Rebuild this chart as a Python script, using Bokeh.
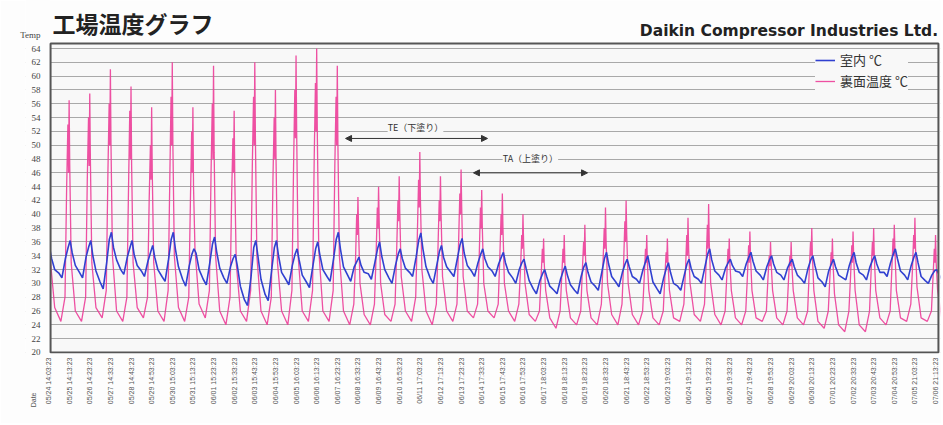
import numpy as np
from bokeh.plotting import figure
from bokeh.models import Range1d, FixedTicker, Label, Arrow, NormalHead, Legend, LegendItem
from bokeh.embed import file_html
from bokeh.resources import INLINE

# ---- tick labels (one per logged day) ----
tick_labels = [
    "05/24 14:03:23", "05/25 14:13:23", "05/26 14:23:23", "05/27 14:33:23",
    "05/28 14:43:23", "05/29 14:53:23", "05/30 15:03:23", "05/31 15:13:23",
    "06/01 15:23:23", "06/02 15:33:23", "06/03 15:43:23", "06/04 15:53:23",
    "06/05 16:03:23", "06/06 16:13:23", "06/07 16:23:23", "06/08 16:33:23",
    "06/09 16:43:23", "06/10 16:53:23", "06/11 17:03:23", "06/12 17:13:23",
    "06/13 17:23:23", "06/14 17:33:23", "06/15 17:43:23", "06/16 17:53:23",
    "06/17 18:03:23", "06/18 18:13:23", "06/19 18:23:23", "06/20 18:33:23",
    "06/21 18:43:23", "06/22 18:53:23", "06/23 19:03:23", "06/24 19:13:23",
    "06/25 19:23:23", "06/26 19:33:23", "06/27 19:43:23", "06/28 19:53:23",
    "06/29 20:03:23", "06/30 20:13:23", "07/01 20:23:23", "07/02 20:33:23",
    "07/03 20:43:23", "07/04 20:53:23", "07/05 21:03:23", "07/06 21:13:23",
]
y_ticks = list(range(20, 65, 2))
x_caption = "Date"
y_caption = "Temp"

# ---- roof surface temperature (裏面温度): sample times within each day (day units) ----
pink_phase = [-0.20, -0.12, -0.06, -0.03, 0.00, 0.03, 0.10, 0.30, 0.60]
pink_rows = [
    [28, 40, 50, 44, 46, 38, 33, 26.5, 24.5],
    [28, 44, 53, 46, 56.5, 47, 33, 26, 24.5],
    [28, 45, 54, 47, 57.5, 48, 33, 26.5, 25],
    [29, 46, 56, 50, 61, 50, 34, 26, 24.5],
    [28, 44, 55, 48, 58.5, 47, 33, 26.5, 25],
    [28, 42, 50, 45, 55.5, 46, 33, 26, 24.5],
    [29, 45, 57, 50, 62, 50, 34, 26.5, 24.5],
    [28, 42, 52, 46, 55.5, 44, 35, 27, 25],
    [29, 46, 56, 48, 61.5, 49, 34, 26, 24],
    [28, 43, 51, 46, 55, 45, 33, 26, 24.5],
    [29, 47, 57, 50, 62, 51, 34, 26, 24],
    [28, 45, 54, 48, 58, 48, 33, 26, 24],
    [29, 47, 58, 51, 63, 52, 34, 26, 24.5],
    [29, 48, 59, 52, 64, 52, 35, 26, 24.5],
    [29, 47, 57, 50, 61.5, 50, 34, 26, 24],
    [27, 33, 40, 37, 42.5, 38, 30, 25.5, 24],
    [27, 34, 41, 38, 44, 39, 30, 25.5, 24.5],
    [27, 35, 42, 39, 45.5, 40, 31, 26, 24.5],
    [28, 37, 45, 41, 49, 42, 32, 26, 24],
    [27, 35, 42, 39, 45.5, 40, 31, 26, 24.5],
    [27, 36, 43, 40, 46.5, 41, 31, 26, 25],
    [27, 34, 41, 38, 43.5, 38, 30, 26, 25],
    [27, 34, 40, 37, 43, 38, 30, 26, 24.5],
    [27, 32, 37, 35, 40, 36, 30, 25.5, 24.5],
    [26, 31, 35, 33, 36.5, 33, 29, 25, 23.5],
    [26, 31, 35, 33, 37, 33, 29, 25, 24],
    [26, 32, 36, 34, 38.5, 34, 29, 25, 24],
    [27, 33, 38, 35, 41, 36, 30, 25.5, 24],
    [27, 33, 39, 36, 42, 37, 30, 25.5, 24],
    [26, 31, 35, 33, 37, 33, 29, 25, 24],
    [26, 31, 34.5, 33, 36.5, 33, 29, 25, 24.5],
    [27, 32, 37, 34, 39.5, 35, 30, 25.5, 24.5],
    [27, 33, 38.5, 35, 41.5, 36, 30, 25.5, 24],
    [26, 31, 35, 33, 36.5, 33, 29, 25, 24],
    [26, 31, 35.5, 33, 37.5, 34, 29, 25, 24.5],
    [26, 31, 34, 32.5, 36, 33, 29, 25, 24],
    [26, 31, 34, 32.5, 36, 33, 29, 25, 24],
    [26, 32, 36, 34, 38, 34, 29, 24.5, 23.5],
    [26, 31, 34.5, 33, 36.5, 33, 28.5, 24, 23],
    [26, 31, 35.5, 33, 37.5, 34, 29, 24, 23],
    [26, 32, 36, 34, 38, 34, 29, 25, 24],
    [26, 32, 36.5, 34, 38.5, 35, 29, 25, 24.5],
    [27, 32, 37, 35, 39.5, 35, 29.5, 25, 24.5],
    [26, 31, 35, 33, 37, 33, 29, 25, 24.5],
]

# ---- indoor temperature (室内) ----
blue_phase = [-0.35, -0.18, -0.05, 0.05, 0.15, 0.30, 0.50]
blue_rows = [
    [31.0, 33.0, 34.6, 35.2, 33.6, 32.0, 31.5],
    [30.8, 33.6, 35.2, 36.2, 34.4, 32.6, 31.6],
    [30.8, 33.8, 35.3, 36.2, 34.0, 31.8, 30.2],
    [29.2, 33.0, 36.4, 37.4, 35.2, 33.4, 32.0],
    [31.3, 33.8, 35.2, 36.2, 34.2, 32.6, 31.8],
    [31.0, 33.2, 34.5, 35.5, 33.8, 32.0, 31.0],
    [30.3, 33.5, 36.4, 37.4, 35.0, 32.4, 30.6],
    [29.6, 32.5, 34.2, 35.0, 34.4, 32.0, 30.6],
    [29.8, 33.0, 35.7, 36.7, 34.6, 32.2, 30.8],
    [30.0, 32.4, 33.6, 34.2, 32.6, 29.6, 27.6],
    [26.8, 31.0, 35.2, 36.2, 34.0, 30.6, 28.4],
    [27.5, 32.0, 35.2, 36.2, 34.0, 31.6, 30.6],
    [29.8, 32.6, 34.2, 35.0, 33.4, 31.2, 30.2],
    [29.4, 32.6, 35.0, 36.0, 34.2, 32.0, 31.0],
    [30.3, 33.6, 36.4, 37.4, 35.0, 32.4, 31.2],
    [30.3, 32.4, 33.2, 33.8, 32.6, 31.6, 31.4],
    [30.6, 33.0, 35.0, 36.0, 34.0, 32.0, 30.8],
    [30.0, 32.6, 34.2, 35.0, 33.6, 32.2, 31.6],
    [31.0, 33.8, 36.3, 37.3, 35.0, 32.4, 30.8],
    [30.0, 32.6, 34.6, 35.5, 33.8, 32.4, 31.6],
    [31.0, 33.6, 35.6, 36.5, 34.4, 32.6, 31.8],
    [31.0, 33.0, 34.2, 35.0, 33.6, 32.4, 31.8],
    [31.0, 32.8, 33.8, 34.5, 33.0, 31.6, 30.8],
    [30.0, 32.0, 33.0, 33.5, 32.2, 30.4, 29.2],
    [28.5, 30.4, 31.4, 32.0, 31.0, 29.6, 29.0],
    [28.5, 30.6, 31.8, 32.5, 31.2, 29.8, 29.0],
    [28.5, 31.0, 32.4, 33.0, 31.6, 30.2, 29.6],
    [29.0, 31.6, 33.6, 34.5, 32.8, 31.0, 30.2],
    [29.5, 31.6, 32.8, 33.5, 32.4, 31.0, 30.6],
    [30.0, 32.0, 33.2, 34.0, 32.4, 30.2, 29.2],
    [28.5, 30.8, 32.2, 33.0, 31.6, 30.0, 29.6],
    [29.0, 31.2, 32.8, 33.5, 32.2, 31.0, 30.6],
    [30.0, 32.4, 34.2, 35.0, 33.4, 31.8, 31.2],
    [30.5, 32.2, 33.0, 33.5, 32.6, 31.8, 31.6],
    [31.0, 32.8, 33.8, 34.5, 33.2, 31.8, 31.2],
    [30.5, 32.4, 33.4, 34.0, 32.8, 31.6, 31.2],
    [30.5, 32.2, 33.0, 33.5, 32.4, 31.2, 30.6],
    [30.0, 32.2, 33.4, 34.0, 32.6, 30.8, 30.2],
    [29.5, 31.8, 32.8, 33.5, 32.4, 31.2, 30.8],
    [30.5, 32.6, 33.8, 34.5, 33.0, 31.6, 31.2],
    [30.5, 32.4, 33.4, 34.0, 32.8, 31.6, 31.6],
    [31.0, 33.0, 34.2, 35.0, 33.6, 31.8, 31.2],
    [30.5, 32.6, 33.8, 34.5, 33.0, 31.0, 30.4],
    [30.0, 31.2, 31.8, 32.0, 31.4, 30.6, 30.2],
]


def flatten(phase, rows):
    xs, ys = [], []
    for d, row in enumerate(rows):
        for ph, v in zip(phase, row):
            xs.append(d + ph)
            ys.append(v)
    return xs, ys


px, py = flatten(pink_phase, pink_rows)
bx, by = flatten(blue_phase, blue_rows)

JP = "Noto Sans CJK JP"
PAGE = "#fdfdfd"
AREA = "#f8f8f8"

# plot-area box (in data units) and axis captions positions
box_l, box_r, box_b, box_t = 0.1, 43.14, 20.0, 64.72
date_tick = -0.73
temp_tick = 65.9

p = figure(width=941, height=423, output_backend="svg", toolbar_location=None,
           x_range=Range1d(-1.115, 43.24), y_range=Range1d(19.85, 70.95),
           min_border_left=25, min_border_right=1, min_border_top=0, min_border_bottom=70)
p.background_fill_color = PAGE
p.border_fill_color = PAGE
p.outline_line_color = None

# plot area fill (below grid)
p.quad(left=[box_l], right=[box_r], bottom=[box_b], top=[box_t],
       fill_color=AREA, line_color=None, level="image")

p.xgrid.visible = False
p.ygrid.ticker = FixedTicker(ticks=y_ticks)
p.ygrid.grid_line_color = "#a8a8a8"
p.ygrid.grid_line_width = 1

p.yaxis.ticker = FixedTicker(ticks=y_ticks + [temp_tick])
p.yaxis.major_label_overrides = {temp_tick: y_caption}
p.yaxis.axis_line_color = None
p.yaxis.major_tick_line_color = None
p.yaxis.minor_tick_line_color = None
p.yaxis.major_tick_out = 0
p.yaxis.major_label_standoff = -15
p.yaxis.major_label_text_font = "Liberation Serif"
p.yaxis.major_label_text_font_size = "9px"
p.yaxis.major_label_text_color = "#444444"

p.xaxis.ticker = FixedTicker(ticks=[date_tick] + list(range(len(tick_labels))))
overrides = {i: s for i, s in enumerate(tick_labels)}
overrides[date_tick] = x_caption + "\u00a0" * 18
p.xaxis.major_label_overrides = overrides
p.xaxis.major_label_orientation = np.pi / 2
p.xaxis.axis_line_color = None
p.xaxis.major_tick_line_color = None
p.xaxis.minor_tick_line_color = None
p.xaxis.major_tick_out = 0
p.xaxis.major_label_standoff = 4
p.xaxis.major_label_text_font = "Liberation Sans"
p.xaxis.major_label_text_font_size = "7px"
p.xaxis.major_label_text_color = "#555555"

r_pink = p.line(px, py, line_color="#ec3d98", line_width=1.3, line_alpha=0.9)
r_blue = p.line(bx, by, line_color="#3040d0", line_width=1.6)

# margins outside the plot box (hide grid / data there)
p.quad(left=[-1.2, box_r], right=[box_l, 43.3], bottom=[19.8, 19.8], top=[71, 71],
       fill_color=PAGE, line_color=None)
# plot box border
p.quad(left=[box_l], right=[box_r], bottom=[box_b], top=[box_t],
       fill_color=None, line_color="#555555", line_width=2)

legend = Legend(items=[LegendItem(label="室内 ℃", renderers=[r_blue]),
                       LegendItem(label="裏面温度 ℃", renderers=[r_pink])],
                location=(790, 263), orientation="vertical")
legend.label_text_font = JP
legend.label_text_font_size = "13px"
legend.label_text_color = "#333333"
legend.label_height = 16
legend.glyph_height = 16
legend.glyph_width = 20
legend.label_standoff = 5
legend.spacing = 2
legend.padding = 4
legend.border_line_color = None
legend.background_fill_color = AREA
legend.background_fill_alpha = 1.0
p.add_layout(legend)

# annotations: coating periods
head = dict(size=6, fill_color="#333333", line_color="#333333")
p.add_layout(Arrow(start=NormalHead(**head), end=NormalHead(**head),
                   x_start=14.4, y_start=50.98, x_end=21.28, y_end=50.98,
                   line_color="#333333", line_width=1))
p.add_layout(Label(x=17.79, y=52.57, text="TE（下塗り）", text_font=JP, text_font_size="9px",
                   text_color="#333333", text_align="center", text_baseline="middle",
                   background_fill_color=AREA))
p.add_layout(Arrow(start=NormalHead(**head), end=NormalHead(**head),
                   x_start=20.6, y_start=46.0, x_end=26.13, y_end=46.0,
                   line_color="#333333", line_width=1))
p.add_layout(Label(x=23.36, y=48.08, text="TA（上塗り）", text_font=JP, text_font_size="9px",
                   text_color="#333333", text_align="center", text_baseline="middle",
                   background_fill_color=AREA))

# titles
p.add_layout(Label(x=0.19, y=67.76, text="工場温度グラフ", text_font=JP, text_font_size="23px",
                   text_font_style="bold", text_color="#222222", text_baseline="middle"))
p.add_layout(Label(x=43.12, y=66.6, text="Daikin Compressor Industries Ltd.",
                   text_font="DejaVu Sans", text_font_size="15.5px", text_font_style="bold",
                   text_color="#222222", text_align="right", text_baseline="middle"))

open("out.html", "w").write(file_html(p, INLINE))
